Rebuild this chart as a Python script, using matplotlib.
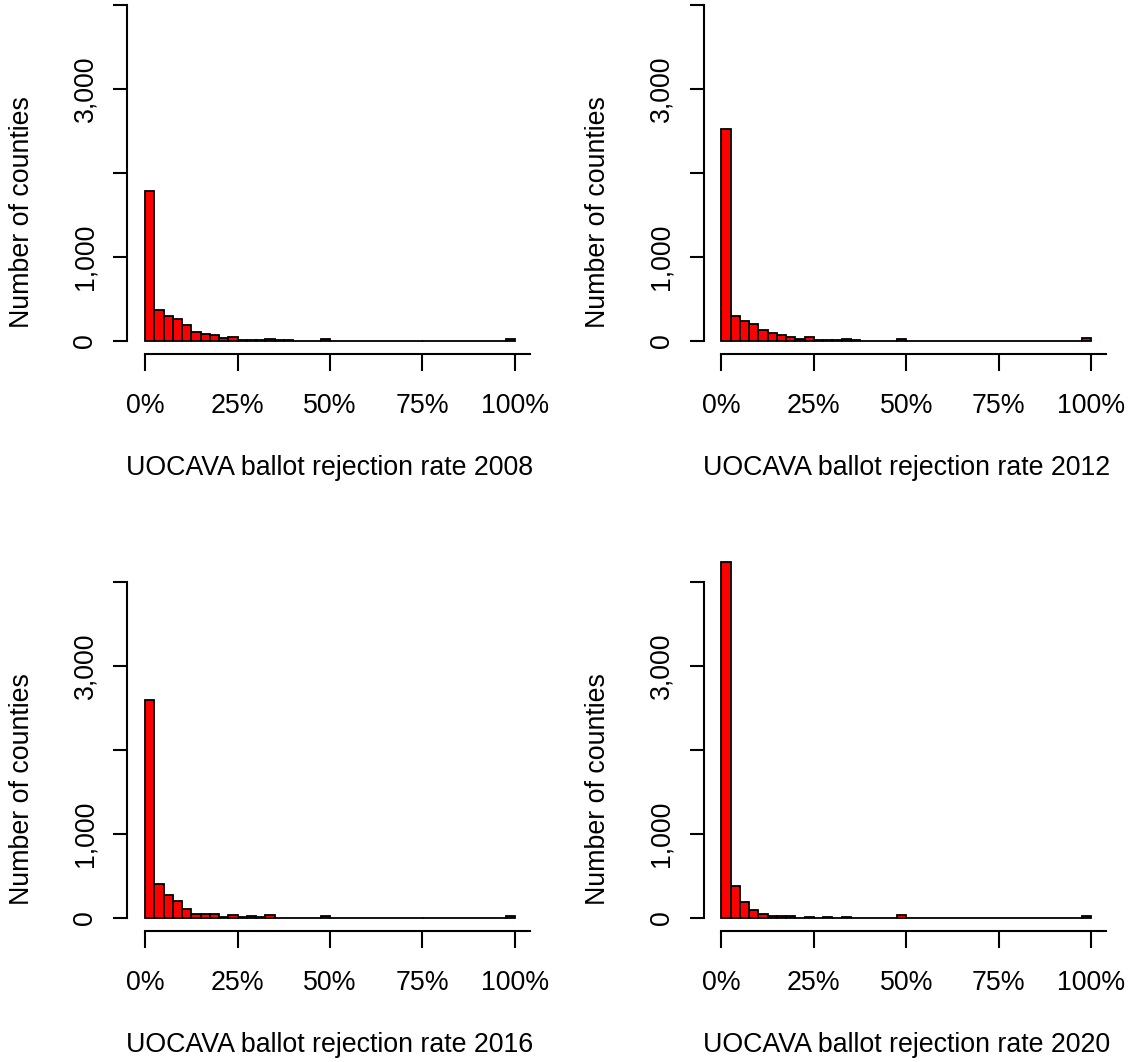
import numpy as np
import matplotlib
matplotlib.use("Agg")
import matplotlib.pyplot as plt

plt.rcParams["font.family"] = ["Liberation Sans", "DejaVu Sans"]

# Histogram counts of counties per 2.5%-wide rejection-rate bin (0% .. 100%)
years = ["2008", "2012", "2016", "2020"]

counts_2008 = [1790, 368, 292, 264, 188, 104, 84, 72, 28, 40,
               12, 12, 12, 20, 10, 10, 0, 0, 0, 24,
               0, 0, 0, 0, 0, 0, 0, 0, 0, 0,
               0, 0, 0, 0, 0, 0, 0, 0, 0, 16]
counts_2012 = [2528, 292, 232, 200, 132, 88, 72, 44, 20, 48,
               8, 8, 8, 20, 8, 0, 0, 0, 0, 20,
               0, 0, 0, 0, 0, 0, 0, 0, 0, 0,
               0, 0, 0, 0, 0, 0, 0, 0, 0, 30]
counts_2016 = [2596, 396, 268, 204, 108, 44, 44, 48, 8, 28,
               8, 20, 8, 28, 0, 0, 0, 0, 0, 20,
               0, 0, 0, 0, 0, 0, 0, 0, 0, 0,
               0, 0, 0, 0, 0, 0, 0, 0, 0, 16]
counts_2020 = [4240, 380, 192, 96, 48, 20, 16, 16, 0, 12,
               0, 12, 0, 12, 0, 0, 0, 0, 0, 28,
               0, 0, 0, 0, 0, 0, 0, 0, 0, 0,
               0, 0, 0, 0, 0, 0, 0, 0, 0, 20]

x_ticks = [0, 0.25, 0.5, 0.75, 1.0]
x_tick_labels = ["0%", "25%", "50%", "75%", "100%"]
y_ticks = [0, 1000, 2000, 3000, 4000]
y_tick_labels = ["0", "1,000", "", "3,000", ""]

all_counts = [counts_2008, counts_2012, counts_2016, counts_2020]

W, H, DPI = 1128, 1062, 100
fig = plt.figure(figsize=(W / DPI, H / DPI), dpi=DPI)
fig.patch.set_facecolor("white")

PX_X = 370.0      # pixels per unit of rate
PX_Y = 0.0839     # pixels per county
origins = [(145.0, 340.7), (721.3, 340.7), (145.0, 917.7), (721.3, 917.7)]

edges = np.linspace(0, 1, len(counts_2008) + 1)
width = edges[1] - edges[0]
FS = 19.3

for year, counts, (ox, oy) in zip(years, all_counts, origins):
    left = ox - 0.04 * PX_X
    right = ox + 1.04 * PX_X
    bottom = oy + 160 * PX_Y
    top = oy - 4160 * PX_Y
    ax = fig.add_axes([left / W, 1 - bottom / H, (right - left) / W, (bottom - top) / H])
    ax.set_xlim(-0.04, 1.04)
    ax.set_ylim(-160, 4160)
    ax.patch.set_alpha(0)

    ax.bar(edges[:-1], counts, width=width, align="edge", color="#ff0000",
           edgecolor="black", linewidth=1.3, clip_on=False, zorder=3)

    for s in ("top", "right"):
        ax.spines[s].set_visible(False)
    ax.spines["left"].set_bounds(0, 4000)
    ax.spines["bottom"].set_bounds(0, 1.04)
    ax.spines["left"].set_position(("outward", 2))
    for s in ("left", "bottom"):
        ax.spines[s].set_linewidth(1.5)

    ax.set_xticks(x_ticks)
    ax.set_xticklabels(x_tick_labels, fontsize=FS)
    ax.set_yticks(y_ticks)
    ax.set_yticklabels(y_tick_labels, fontsize=FS, rotation=90, va="center")
    ax.tick_params(axis="x", length=12, width=1.5, pad=16)
    ax.tick_params(axis="y", length=10, width=1.5, pad=11)

    # axis titles placed in figure pixel coordinates
    fig.text((ox + 0.5 * PX_X) / W, 1 - (oy + 127) / H,
             f"UOCAVA ballot rejection rate {year}",
             ha="center", va="center", fontsize=FS)
    fig.text((ox - 123) / W, 1 - (oy - 129) / H, "Number of counties",
             ha="center", va="center", rotation=90, fontsize=FS)

fig.savefig("out.png", dpi=DPI)
